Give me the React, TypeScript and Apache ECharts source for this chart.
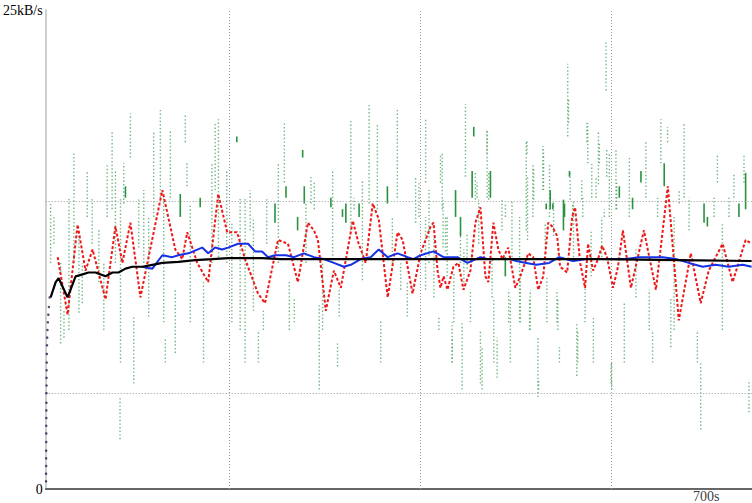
import React, { useEffect, useRef } from "react";
import * as echarts from "echarts";

// ---- Data (time in seconds, throughput in kB/s) ----
const yTickValues = [0, 25];
const yTickLabels = ["0", "25kB/s"];
const xLabelValue = 700;
const xLabelText = "700s";
const gridYValues = [5, 15];
const gridXValues = [200, 400, 600];

// green instantaneous-throughput streaks: time, low, high, dense flag
const streakT = [
  12.2, 15.7, 22.7, 26.2, 31.4, 36.6, 41.9, 45.4, 50.6, 55.8, 62.8, 68.0, 71.5, 76.7, 80.2, 85.5, 85.0, 88.9, 90.7, 95.9,
  99.4, 104.6, 109.9, 115.1, 120.3, 127.3, 130.8, 132.5, 137.8, 143.0, 148.2, 153.5, 155.2, 158.7, 169.1, 172.6, 181.4, 184.8, 188.3, 197.0,
  202.3, 207.5, 211.0, 216.2, 221.5, 224.9, 230.2, 235.4, 238.9, 247.6, 251.1,
  257.4, 259.1, 262.6, 267.8, 271.3, 276.6, 278.3, 280.1, 285.3, 288.8, 294.0, 297.5, 306.2, 308.0, 313.2, 314.9, 318.4, 321.9, 327.1,
  330.6, 335.8, 339.3, 346.3, 355.0, 358.5, 365.5, 370.7, 375.9, 379.4, 386.4, 395.1, 398.6, 405.6, 409.1, 414.3, 419.5, 423.0, 426.5, 433.5,
  437.0, 442.2, 445.7, 447.4, 454.4, 456.1, 459.6, 463.1, 470.1, 473.6, 477.1, 480.6, 489.3, 494.5,
  504.2, 511.2, 514.6, 518.1, 523.4, 528.6, 532.1, 535.6, 539.1, 544.3, 546.0, 551.3, 554.7, 556.5, 560.0, 565.2, 570.4, 575.7, 579.2, 584.4,
  587.9, 593.1, 594.9, 598.3, 600.1, 605.3, 608.8, 614.0, 619.3, 622.7, 626.2, 631.5, 636.7, 640.2, 643.7, 648.9, 652.4, 655.9, 659.4, 662.8,
  666.3, 671.6, 676.8, 682.0, 690.7, 694.2, 697.7, 701.2, 708.2, 711.7, 716.9, 723.9, 729.1, 734.3, 739.6, 741.3, 744.8,
  405.5, 421.2, 423.9, 428.2, 433.4, 435.2, 442.1, 443.9, 449.1, 452.6, 457.8, 461.3, 464.8, 470.0, 471.8, 475.3, 485.7, 489.2, 492.7, 496.2,
  505.0, 511.9, 512.5, 515.4, 518.9, 524.1, 529.3, 531.1, 532.8, 536.3, 539.8, 543.3, 550.2, 555.5, 557.2, 560.7, 564.2, 569.4, 572.9, 574.7,
  579.9, 581.6, 586.9, 590.3, 595.6, 600.8, 606.0,
];
const streakLo = [
  11.8, 12.8, 7.6, 7.9, 8.3, 11.8, 9.2, 9.7, 14.2, 12.8, 10.8, 8.3, 14.2, 14.6, 11.8, 6.6, 2.6, 14.9, 15.2, 17.3,
  5.5, 12.6, 11.8, 9.0, 14.2, 15.2, 8.7, 6.6, 15.2, 7.1, 14.2, 18.1, 15.8, 8.7, 14.7, 6.6, 11.8, 15.6, 12.1, 11.8,
  8.7, 18.1, 8.3, 6.6, 13.5, 9.3, 6.6, 8.3, 12.8, 13.9, 11.8,
  16.0, 15.2, 8.3, 8.7, 13.5, 17.3, 14.9, 11.8, 14.9, 14.6, 5.2, 8.3, 14.7, 11.8, 6.4, 9.0, 14.2, 13.9, 13.5,
  14.6, 14.2, 10.9, 14.9, 14.6, 6.6, 14.9, 11.8, 15.2, 10.4, 9.0, 13.9, 14.2, 16.0, 11.8, 10.0, 8.3, 14.6, 12.4, 6.6,
  14.2, 13.2, 10.4, 16.3, 15.2, 18.4, 15.2, 5.5, 15.2, 15.2, 6.6, 5.8, 14.2, 6.6,
  8.7, 13.5, 8.3, 14.2, 4.8, 15.6, 14.6, 14.2, 14.6, 8.3, 6.6, 14.2, 18.4, 16.3, 14.2, 6.6, 14.2, 17.0, 11.1, 15.2,
  17.0, 14.2, 20.8, 14.2, 5.5, 14.6, 15.2, 6.6, 14.2, 14.6, 10.0, 16.0, 15.2, 8.3, 6.6, 14.2, 17.0, 15.8, 18.1, 7.4,
  8.3, 14.9, 15.2, 13.5, 6.6, 3.1, 13.9, 13.7, 14.2, 16.0, 8.3, 14.2, 15.2, 14.2, 16.0, 14.6, 4.0,
  10.4, 16.0, 12.6, 11.1, 6.6, 8.7, 11.8, 5.2, 11.5, 8.7, 15.1, 12.8, 5.2, 17.5, 15.1, 10.0, 13.5, 11.1, 8.7, 12.1,
  8.7, 17.5, 13.0, 8.3, 15.1, 5.2, 15.6, 12.6, 8.7, 14.6, 13.2, 8.7, 13.5, 19.1, 15.1, 12.1, 5.9, 15.1, 8.7, 18.1,
  15.2, 6.6, 15.9, 12.1, 16.3, 5.2, 14.6,
];
const streakHi = [
  14.9, 14.2, 11.8, 9.3, 15.2, 17.5, 13.5, 11.8, 16.6, 15.2, 13.5, 11.8, 17.0, 18.7, 16.6, 15.2, 4.8, 17.0, 15.8, 19.6,
  9.0, 15.2, 15.6, 14.2, 18.6, 19.8, 15.2, 7.8, 18.7, 10.4, 15.4, 19.6, 17.0, 14.9, 15.2, 10.8, 17.0, 19.1, 19.3, 16.6,
  13.9, 18.4, 15.2, 15.2, 15.6, 14.2, 8.3, 9.3, 15.2, 14.9, 17.0,
  19.1, 15.8, 10.8, 10.0, 14.2, 17.7, 15.8, 14.9, 16.3, 16.1, 9.7, 11.8, 15.2, 16.6, 7.6, 10.4, 14.6, 14.9, 19.3,
  15.2, 14.9, 16.1, 20.1, 19.1, 8.8, 15.8, 14.2, 19.8, 11.9, 10.8, 16.3, 16.0, 19.3, 15.6, 13.2, 9.0, 17.5, 14.2, 7.9,
  15.6, 14.2, 12.5, 20.1, 16.6, 18.9, 16.0, 8.3, 18.7, 16.6, 10.0, 7.9, 14.9, 10.0,
  14.2, 18.2, 10.0, 17.0, 7.9, 17.9, 14.9, 17.0, 14.9, 10.0, 7.4, 14.9, 22.2, 16.6, 14.9, 8.3, 15.2, 19.1, 13.5, 16.3,
  18.1, 14.6, 23.3, 17.5, 6.6, 17.7, 15.8, 9.7, 17.3, 15.2, 12.5, 16.6, 18.2, 10.4, 8.3, 15.2, 19.3, 17.0, 18.9, 10.0,
  14.2, 15.6, 19.1, 15.2, 8.3, 6.6, 14.9, 14.2, 15.2, 17.5, 13.9, 15.2, 16.5, 14.9, 17.5, 16.5, 5.7,
  14.2, 17.5, 15.1, 14.2, 8.7, 11.3, 13.5, 8.7, 13.3, 10.4, 16.6, 15.1, 7.4, 18.7, 16.6, 12.1, 15.1, 12.1, 10.4, 15.1,
  11.1, 18.2, 16.3, 10.4, 16.8, 5.7, 17.7, 13.9, 11.1, 15.6, 15.1, 10.4, 15.1, 20.3, 16.6, 15.1, 8.7, 16.1, 10.8, 19.1,
  17.0, 9.0, 18.6, 14.2, 17.7, 6.6, 16.0,
];
const streakDense = [
  0, 0, 0, 0, 0, 0, 0, 0, 0, 0, 0, 0, 0, 0, 0, 0, 0, 0, 1, 0,
  0, 0, 0, 0, 0, 0, 0, 0, 0, 0, 1, 0, 0, 0, 1, 0, 0, 0, 0, 0,
  0, 1, 0, 0, 0, 0, 0, 0, 0, 1, 0,
  0, 1, 0, 0, 1, 1, 1, 0, 0, 0, 0, 0, 1, 0, 0, 0, 1, 1, 0,
  0, 1, 0, 0, 0, 0, 1, 0, 0, 0, 0, 0, 0, 0, 0, 0, 0, 0, 0, 0,
  1, 1, 0, 0, 1, 1, 0, 0, 0, 1, 0, 0, 0, 0,
  0, 0, 0, 0, 0, 0, 1, 0, 1, 0, 0, 1, 0, 1, 0, 0, 0, 0, 0, 0,
  0, 0, 0, 0, 0, 0, 1, 0, 0, 1, 0, 1, 0, 0, 0, 0, 0, 1, 0, 0,
  0, 0, 0, 0, 0, 0, 1, 1, 0, 0, 0, 0, 0, 1, 0, 1, 0,
  0, 0, 0, 0, 0, 0, 0, 0, 0, 0, 0, 0, 0, 0, 0, 0, 0, 1, 0, 0,
  0, 0, 0, 0, 0, 0, 0, 0, 0, 1, 0, 0, 1, 0, 0, 0, 0, 0, 0, 0,
  0, 0, 0, 0, 0, 0, 0,
];

// red short-term average
const redT = [
  19.6, 30.0, 40.5, 48.8, 56.2, 69.8, 80.2, 87.5, 95.9, 106.4, 113.7, 129.4, 143.0, 150.3, 155.5, 166.0, 177.5, 188.0, 197.4, 207.8,
  216.2, 229.8, 237.1, 250.7, 261.2, 271.6, 282.1, 288.4, 292.6, 300.9, 309.3, 316.6, 329.2, 335.4, 342.8, 350.1, 356.4, 365.8, 376.2, 381.5,
  391.9, 400.3, 410.8, 413.9, 418.1, 421.2, 424.4, 428.5, 434.8, 440.0, 445.3, 452.6, 457.8, 463.1, 468.3, 471.4, 476.7, 481.9, 486.1, 492.3,
  499.7, 504.9, 513.3, 518.5, 523.7, 529.0, 534.2, 538.4, 543.6, 546.7, 554.1, 559.3, 562.4, 567.7, 572.9, 576.0, 581.3, 586.5, 590.7, 595.9,
  602.2, 607.4, 612.6, 621.0, 634.6, 647.2, 659.7, 671.2, 683.8, 694.2, 702.6, 717.2, 727.7, 741.3, 747.6,
];
const redV = [
  12.1, 9.1, 13.8, 11.4, 12.5, 9.9, 13.7, 11.8, 13.9, 10.0, 11.8, 15.6, 12.5, 12.0, 13.4, 11.8, 10.8, 15.4, 13.4, 13.4,
  12.0, 10.2, 9.7, 13.0, 12.8, 10.8, 13.9, 13.5, 13.0, 9.3, 11.4, 10.5, 14.0, 12.8, 11.8, 14.9, 14.1, 10.0, 13.4, 13.0,
  10.2, 12.3, 13.7, 13.9, 11.4, 10.5, 11.1, 10.4, 11.6, 11.8, 10.4, 11.4, 13.9, 14.7, 11.1, 10.8, 13.9, 12.5, 12.0, 12.6,
  10.5, 11.1, 12.3, 12.1, 10.4, 11.1, 13.9, 13.7, 13.2, 11.6, 11.3, 14.2, 14.7, 11.8, 10.5, 12.8, 11.4, 12.0, 12.7, 12.1,
  10.5, 11.6, 13.5, 10.5, 13.5, 10.4, 15.8, 8.8, 12.3, 9.7, 11.4, 12.8, 10.8, 13.0, 12.8,
];

// blue moving average
const blueT = [
  108.5, 118.9, 129.4, 139.8, 146.1, 156.6, 171.2, 177.5, 184.8, 192.1, 198.4, 208.9, 219.3, 226.7, 234.0, 240.3, 247.6, 253.9, 259.1, 267.5,
  277.9, 288.4, 298.8, 309.3, 319.8, 327.1, 337.5, 348.0, 356.4, 365.8, 376.2, 386.7, 393.0, 400.3, 413.9, 424.4, 439.0, 449.5, 463.1, 470.4,
  484.0, 494.4, 500.7, 511.2, 521.6, 535.2, 545.7, 560.3, 574.0, 587.5, 602.2, 615.8, 629.4, 639.8, 654.5, 668.1, 681.7, 696.3, 709.9, 723.5,
  738.2, 747.6,
];
const blueV = [
  11.6, 11.5, 12.2, 12.1, 12.2, 12.3, 12.6, 12.3, 12.6, 12.5, 12.6, 12.8, 12.8, 12.4, 12.4, 12.1, 12.2, 12.2, 12.2, 12.1,
  12.3, 12.1, 12.0, 11.8, 11.6, 11.7, 12.0, 12.1, 12.5, 12.1, 12.3, 12.1, 12.0, 12.2, 12.4, 12.1, 12.1, 11.8, 12.1, 12.0,
  12.0, 12.0, 11.9, 11.8, 11.7, 11.8, 12.1, 11.9, 12.0, 12.0, 12.0, 12.0, 12.1, 12.1, 12.1, 12.0, 11.8, 11.6, 11.7, 11.6,
  11.7, 11.6,
];

// black cumulative average
const blackT = [
  12.2, 17.5, 20.6, 30.0, 38.4, 45.7, 52.0, 59.3, 69.8, 77.1, 83.4, 90.7, 98.0, 108.5, 118.9, 129.4, 146.1, 163.9, 181.7, 198.4,
  216.2, 234.0, 253.9, 327.0, 400.0, 500.7, 588.0, 672.0, 747.6,
];
const blackV = [
  10.0, 10.8, 11.0, 10.0, 11.1, 11.2, 11.3, 11.3, 11.1, 11.3, 11.3, 11.5, 11.6, 11.6, 11.7, 11.8, 11.85, 11.95, 12.0, 12.05,
  12.05, 12.05, 12.0, 12.0, 12.0, 12.0, 12.0, 11.95, 11.9,
];

// start-up samples
const startT = [7.4, 7.4, 7.5, 7.5, 7.5, 7.6, 7.6, 7.6, 7.7, 7.7, 7.8, 7.8, 7.9, 7.9, 8.0, 8.1, 8.2, 8.4, 8.6, 8.9, 9.3, 9.8, 10.4, 11.2];
const startV = [0.4, 0.8, 1.2, 1.6, 2.0, 2.45, 2.9, 3.3, 3.7, 4.1, 4.5, 5.0, 5.4, 5.8, 6.2, 6.6, 7.05, 7.5, 7.9, 8.3, 8.7, 9.1, 9.5, 10.0];

const X_MIN = 7;
const X_MAX = 748;
const FONT = "serif";

function zip(a: number[], b: number[]) {
  return a.map((v, i) => [v, b[i]]);
}

export default function App() {
  const ref = useRef<HTMLDivElement>(null);
  useEffect(() => {
    document.body.style.margin = "0";
    if (!ref.current) return;
    const chart = echarts.init(ref.current, null, { renderer: "svg" });
    const streakData = streakT.map((t, i) => [t, streakLo[i], streakHi[i], streakDense[i]]);
    chart.setOption({
      animation: false,
      backgroundColor: "#ffffff",
      textStyle: { fontFamily: FONT },
      grid: { left: 44, right: 0, top: 10, bottom: 14, containLabel: false },
      xAxis: [
        {
          type: "value",
          min: X_MIN,
          max: X_MAX,
          axisLine: { show: true, onZero: false, lineStyle: { color: "#cfcfcf", width: 2 } },
          axisTick: { show: false },
          axisLabel: { show: false },
          splitLine: { show: false },
        },
        {
          type: "value",
          position: "top",
          min: X_MIN,
          max: X_MAX,
          axisLine: { show: true, lineStyle: { color: "#444", width: 1.5 } },
          axisTick: { show: false },
          axisLabel: { show: false },
          splitLine: { show: false },
        },
      ],
      yAxis: {
        type: "value",
        min: yTickValues[0],
        max: yTickValues[1],
        interval: yTickValues[1] - yTickValues[0],
        axisLine: { show: true, onZero: false, lineStyle: { color: "#cfcfcf", width: 2 } },
        axisTick: { show: false },
        splitLine: { show: false },
        axisLabel: {
          margin: 3,
          color: "#000",
          fontSize: 14,
          fontFamily: FONT,
          formatter: (v: number) => {
            const idx = yTickValues.indexOf(v);
            return idx >= 0 ? yTickLabels[idx] : "";
          },
        },
      },
      series: [
        {
          type: "scatter",
          z: 1,
          symbolSize: 0,
          data: [[xLabelValue, 0]],
          label: {
            show: true,
            position: "bottom",
            distance: 0,
            formatter: xLabelText,
            color: "#000",
            fontSize: 14,
            fontFamily: FONT,
          },
          markLine: {
            silent: true,
            symbol: ["none", "none"],
            label: { show: false },
            lineStyle: { color: "#999", type: [1, 2], width: 1 },
            data: [
              ...gridYValues.map((v) => ({ yAxis: v })),
              ...gridXValues.map((v) => ({ xAxis: v })),
            ],
          },
        },
        {
          type: "custom",
          z: 2,
          data: streakData,
          encode: { x: 0, y: [1, 2] },
          renderItem: (params: any, api: any) => {
            const p1 = api.coord([api.value(0), api.value(1)]);
            const p2 = api.coord([api.value(0), api.value(2)]);
            const dense = api.value(3) === 1;
            return {
              type: "line",
              shape: { x1: p1[0], y1: p1[1], x2: p2[0], y2: p2[1] },
              style: dense
                ? { stroke: "#27923f", lineWidth: 1.6 }
                : { stroke: "#3f9e5a", lineWidth: 1.4, lineDash: [1.4, 2.2], opacity: 0.75 },
            };
          },
        },
        {
          type: "line",
          z: 3,
          data: zip(redT, redV),
          showSymbol: false,
          lineStyle: { color: "#ee1818", width: 2, type: [3, 2] },
        },
        {
          type: "line",
          z: 4,
          data: zip(blueT, blueV),
          showSymbol: false,
          lineStyle: { color: "#1530e6", width: 2 },
        },
        {
          type: "line",
          z: 5,
          data: zip(blackT, blackV),
          showSymbol: false,
          lineStyle: { color: "#000", width: 2.2 },
        },
        {
          type: "scatter",
          z: 5,
          data: zip(startT, startV),
          symbolSize: 2.5,
          itemStyle: { color: "#2a1a4c" },
        },
      ],
    });
    return () => chart.dispose();
  }, []);
  return <div ref={ref} style={{ width: 752, height: 503 }} />;
}
